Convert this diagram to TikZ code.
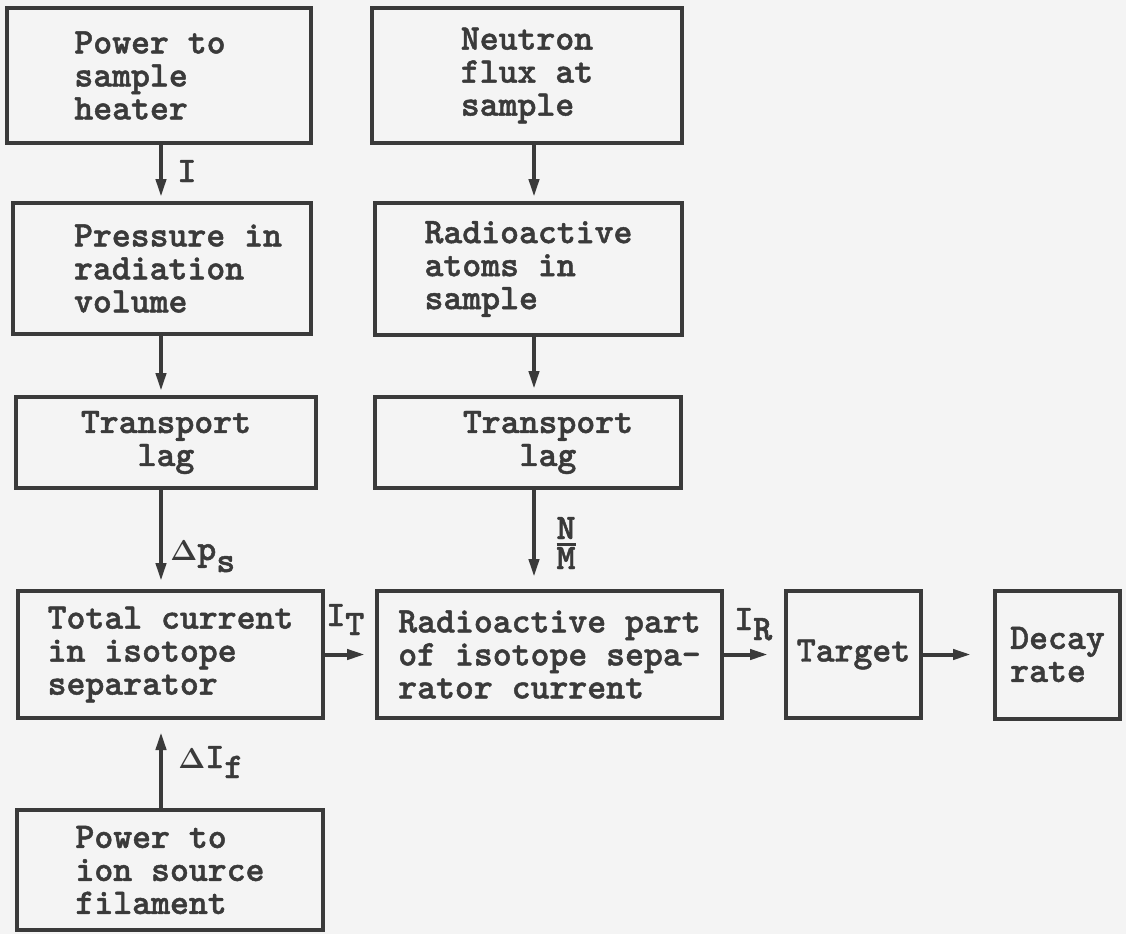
\documentclass[tikz,border=0pt]{standalone}
\usepackage[no-math]{fontspec}
\usetikzlibrary{arrows.meta}
\newfontfamily\typefam{lmmonolt10-bold.otf}[FakeBold=1.3]
\definecolor{ink}{RGB}{58,58,58}
\definecolor{paper}{RGB}{244,244,244}
\newcommand{\tyw}{\fontsize{18}{16.5}\selectfont\typefam}
\newcommand{\dlt}{{\fontsize{14}{14}\selectfont$\mathbf{\Delta}$}}
\newcommand{\ind}[1]{\hspace*{#1}}
\tikzset{
  block/.style={draw=ink, line width=2pt, inner sep=0pt, align=left, font=\tyw, text=ink},
  flow/.style={-{Triangle[length=9pt,width=5pt]}, draw=ink, line width=2pt, shorten >=#1},
  flow/.default=2pt,
  lbl/.style={font=\tyw, text=ink, inner sep=0pt}
}
\begin{document}
\begin{tikzpicture}[x=0.5pt,y=-0.5pt]
\fill[paper] (0,0) rectangle (1126,934);
\useasboundingbox (0,0) rectangle (1126,934);
\coordinate (colL) at (161,0);
\coordinate (colR) at (534,0);

% left column
\node[block, minimum width=152pt, minimum height=67.5pt] (heater) at (159,75.5) {Power to\ind{9pt}\\sample\\heater};
\node[block, minimum width=149pt, minimum height=65.5pt] (pressure) at (162,268.5) {\ind{16pt}Pressure in\\\ind{16pt}radiation\\\ind{16pt}volume};
\node[block, align=center, minimum width=150pt, minimum height=45.5pt] (lagP) at (166,442.5) {Transport\\lag};
\node[block, minimum width=152.5pt, minimum height=63.5pt] (total) at (170.5,654.5) {Total current\\in isotope\\separator};
\node[block, minimum width=153pt, minimum height=60pt] (filament) at (170,870) {Power to\\ion source\ind{9pt}\\filament};

% right column
\node[block, minimum width=155pt, minimum height=67.5pt] (flux) at (527,75.5) {Neutron\\flux at\\sample};
\node[block, minimum width=153.5pt, minimum height=66pt] (atoms) at (528.5,269) {Radioactive\\atoms in\\sample};
\node[block, align=center, minimum width=153pt, minimum height=45.5pt] (lagN) at (528,442.5) {\ind{20pt}Transport\\\ind{20pt}lag};
\node[block, minimum width=172.5pt, minimum height=63.5pt] (part) at (549.5,654.5) {Radioactive part\\of isotope sepa-\\rator current};
\node[block, minimum width=67.5pt, minimum height=63.5pt] (target) at (853.5,654.5) {Target};
\node[block, minimum width=62.5pt, minimum height=64pt] (decay) at (1057.5,654.5) {Decay\\rate};

% signal paths
\draw[flow] (heater.south -| colL) -- (pressure.north -| colL);
\draw[flow] (flux.south -| colR) -- (atoms.north -| colR);
\draw[flow] (pressure.south -| colL) -- (lagP.north -| colL);
\draw[flow=3pt] (atoms.south -| colR) -- (lagN.north -| colR);
\draw[flow=4pt] (lagP.south -| colL) -- (total.north -| colL);
\draw[flow=6pt] (lagN.south -| colR) -- (part.north -| colR);
\draw[flow=6pt] (filament.north -| colL) -- (total.south -| colL);
\draw[flow=5pt] (total) -- (part);
\draw[flow=8pt] (part) -- (target);
\draw[flow=11pt] (target.east) -- (target.east -| decay.west);

% labels
\node[lbl, anchor=base west] (lI) at (177,182) {I};
\node[lbl, anchor=base west] (lps) at (170,560) {\dlt p\raisebox{-6pt}{s}};
\node[lbl, align=center] (lNM) at (566,543) {\rlap{\rule[-3.5pt]{9.5pt}{1.5pt}}N\\[-1.5pt]M};
\node[lbl, anchor=base west] (lIT) at (326,626) {I\raisebox{-4.5pt}{T}};
\node[lbl, anchor=base west] (lIR) at (734,630) {I\raisebox{-5pt}{R}};
\node[lbl, anchor=base west] (lIf) at (178,768) {\dlt I\raisebox{-5pt}{f}};
\end{tikzpicture}
\end{document}
